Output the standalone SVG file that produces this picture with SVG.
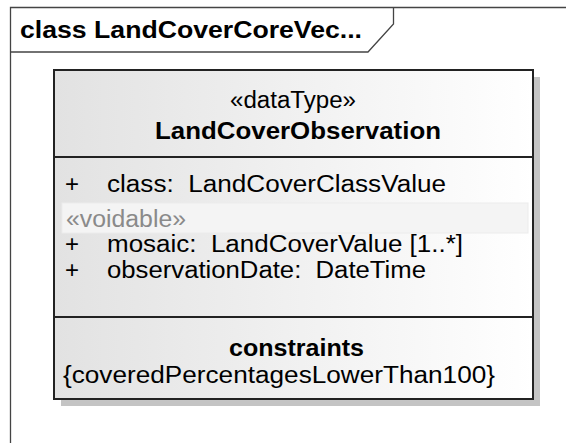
<svg xmlns="http://www.w3.org/2000/svg" width="566" height="443" viewBox="0 0 566 443">
  <defs>
    <linearGradient id="boxFill" x1="0" y1="0" x2="1" y2="0">
      <stop offset="0" stop-color="#e2e2e2"/>
      <stop offset="1" stop-color="#ffffff"/>
    </linearGradient>
    <style>
      .frame { fill: none; stroke: #444; stroke-width: 1.3; }
      .t { font-family: "Liberation Sans", Arial, sans-serif; font-size: 23px; fill: #000; white-space: pre; }
      .b { font-weight: bold; }
      .grey { fill: #8a8a8a; }
      .sep { stroke: #222; stroke-width: 2; }
      .plus { font-size: 24px; }
    </style>
  </defs>
  <rect width="566" height="443" fill="#ffffff"/>
  <g id="frame">
    <path class="frame" d="M10.5,443 V7.5 H566"/>
    <path class="frame" d="M10.5,52 H368 L393.5,24 V7.5"/>
    <text class="t b" x="20" y="38" textLength="342" lengthAdjust="spacingAndGlyphs">class LandCoverCoreVec...</text>
  </g>
  <g id="LandCoverObservation">
    <rect x="61" y="77" width="479" height="329" fill="#c4c4c4"/>
    <rect x="54" y="70" width="479" height="329" fill="url(#boxFill)" stroke="#222" stroke-width="2"/>
    <text class="t" x="230" y="108" textLength="126" lengthAdjust="spacingAndGlyphs">«dataType»</text>
    <text class="t b" x="155" y="139" textLength="286" lengthAdjust="spacingAndGlyphs">LandCoverObservation</text>
    <line class="sep" x1="54" y1="157" x2="533" y2="157"/>
    <text class="t plus" x="65" y="192">+</text>
    <text class="t" x="107" y="192" xml:space="preserve" textLength="339" lengthAdjust="spacingAndGlyphs">class:  LandCoverClassValue</text>
    <rect x="62" y="203" width="466" height="30" fill="#f4f4f4" stroke="#ececec" stroke-width="1"/>
    <text class="t grey" x="66" y="227" textLength="120" lengthAdjust="spacingAndGlyphs">«voidable»</text>
    <text class="t plus" x="65" y="252">+</text>
    <text class="t" x="107" y="252" xml:space="preserve" textLength="356" lengthAdjust="spacingAndGlyphs">mosaic:  LandCoverValue [1..*]</text>
    <text class="t plus" x="65" y="278">+</text>
    <text class="t" x="107" y="278" xml:space="preserve" textLength="319" lengthAdjust="spacingAndGlyphs">observationDate:  DateTime</text>
    <line class="sep" x1="54" y1="317" x2="533" y2="317"/>
    <text class="t b" x="229" y="356" textLength="135" lengthAdjust="spacingAndGlyphs">constraints</text>
    <text class="t" x="63" y="383" textLength="432" lengthAdjust="spacingAndGlyphs">{coveredPercentagesLowerThan100}</text>
  </g>
</svg>
